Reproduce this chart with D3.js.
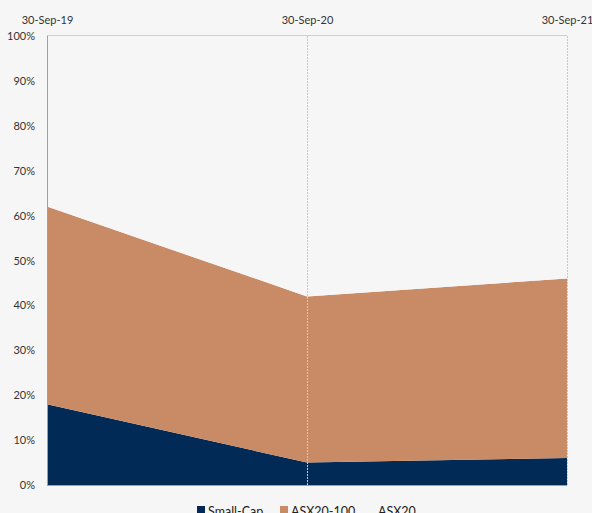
<!DOCTYPE html>
<html>
<head>
<meta charset="utf-8">
<script src="https://cdn.jsdelivr.net/npm/d3@7"></script>
<style>
  body { margin: 0; background: #f6f6f6; }
  svg { display: block; font-family: Lato, "Open Sans", sans-serif; }
</style>
</head>
<body>
<div id="chart"></div>
<script>
'use strict';

// Data
const dates = ['30-Sep-19', '30-Sep-20', '30-Sep-21'];
const smallCap = [18, 5, 6];
const asx20to100 = [44, 37, 40];
const asx20 = [38, 58, 54];
const seriesNames = ['Small-Cap', 'ASX20-100', 'ASX20'];
const seriesColors = ['#012a57', '#c98b66', '#f6f6f6'];
const yTicks = [0, 10, 20, 30, 40, 50, 60, 70, 80, 90, 100];

// Config
const svgW = 592;
const svgH = 513;
const margin = {top: 36, right: 25, bottom: 28, left: 47};
const gW = svgW - margin.left - margin.right;
const gH = svgH - margin.top - margin.bottom;

const rows = dates.map((d, i) => ({
    date: d,
    'Small-Cap': smallCap[i],
    'ASX20-100': asx20to100[i],
    'ASX20': asx20[i]
}));

const xScale = d3.scalePoint().domain(dates).range([0, gW]);
const yScale = d3.scaleLinear().domain([0, 100]).range([gH, 0]);
const colorScale = d3.scaleOrdinal().domain(seriesNames).range(seriesColors);

const stacked = d3.stack().keys(seriesNames)(rows);
const areaMaker = d3.area()
    .x(d => xScale(d.data.date))
    .y0(d => yScale(d[0]))
    .y1(d => yScale(d[1]));

const svg = d3.select('#chart').append('svg')
    .attr('width', svgW)
    .attr('height', svgH);
const g = svg.append('g')
    .attr('transform', `translate(${margin.left},${margin.top})`);

// Areas
g.selectAll('.area')
    .data(stacked)
    .join('path')
    .attr('class', 'area')
    .attr('fill', d => colorScale(d.key))
    .attr('d', areaMaker);

// Top frame line
g.append('line')
    .attr('x1', 0).attr('x2', gW)
    .attr('y1', -0.5).attr('y2', -0.5)
    .attr('stroke', '#d0d0d0');

// Vertical dotted gridlines
g.selectAll('.vgrid')
    .data(dates.slice(1))
    .join('line')
    .attr('class', 'vgrid')
    .attr('x1', d => xScale(d) + 0.5).attr('x2', d => xScale(d) + 0.5)
    .attr('y1', 0).attr('y2', gH)
    .attr('stroke', '#c8c8c8')
    .attr('stroke-dasharray', '2,1');

// Y axis
const yAxis = g.append('g')
    .call(d3.axisLeft(yScale).tickValues(yTicks).tickFormat(d => d + '%').tickSize(0).tickPadding(12));
yAxis.select('.domain').attr('stroke', '#a0a0a0').attr('d', `M0.5,0V${gH}`);
yAxis.selectAll('text').attr('font-size', 11).attr('fill', '#333').attr('font-family', 'Lato, sans-serif');

// Bottom axis line
g.append('line')
    .attr('x1', 0).attr('x2', gW)
    .attr('y1', gH + 0.5).attr('y2', gH + 0.5)
    .attr('stroke', '#a0a0a0');

// Top date labels
const xAxis = g.append('g')
    .call(d3.axisTop(xScale).tickSize(0).tickPadding(12));
xAxis.select('.domain').remove();
xAxis.selectAll('text').attr('font-size', 11).attr('fill', '#333').attr('font-family', 'Lato, sans-serif');

// Legend
const legendX = [197, 280, 362];
const legend = svg.append('g').attr('class', 'legend');
seriesNames.forEach((name, i) => {
    const lg = legend.append('g').attr('transform', `translate(${legendX[i]},506)`);
    lg.append('rect')
        .attr('width', 8).attr('height', 8)
        .attr('fill', colorScale(name));
    lg.append('text')
        .attr('x', i === 2 ? 16 : 11).attr('y', 10)
        .attr('font-size', 12.5).attr('fill', '#222')
        .text(name);
});
</script>
</body>
</html>
